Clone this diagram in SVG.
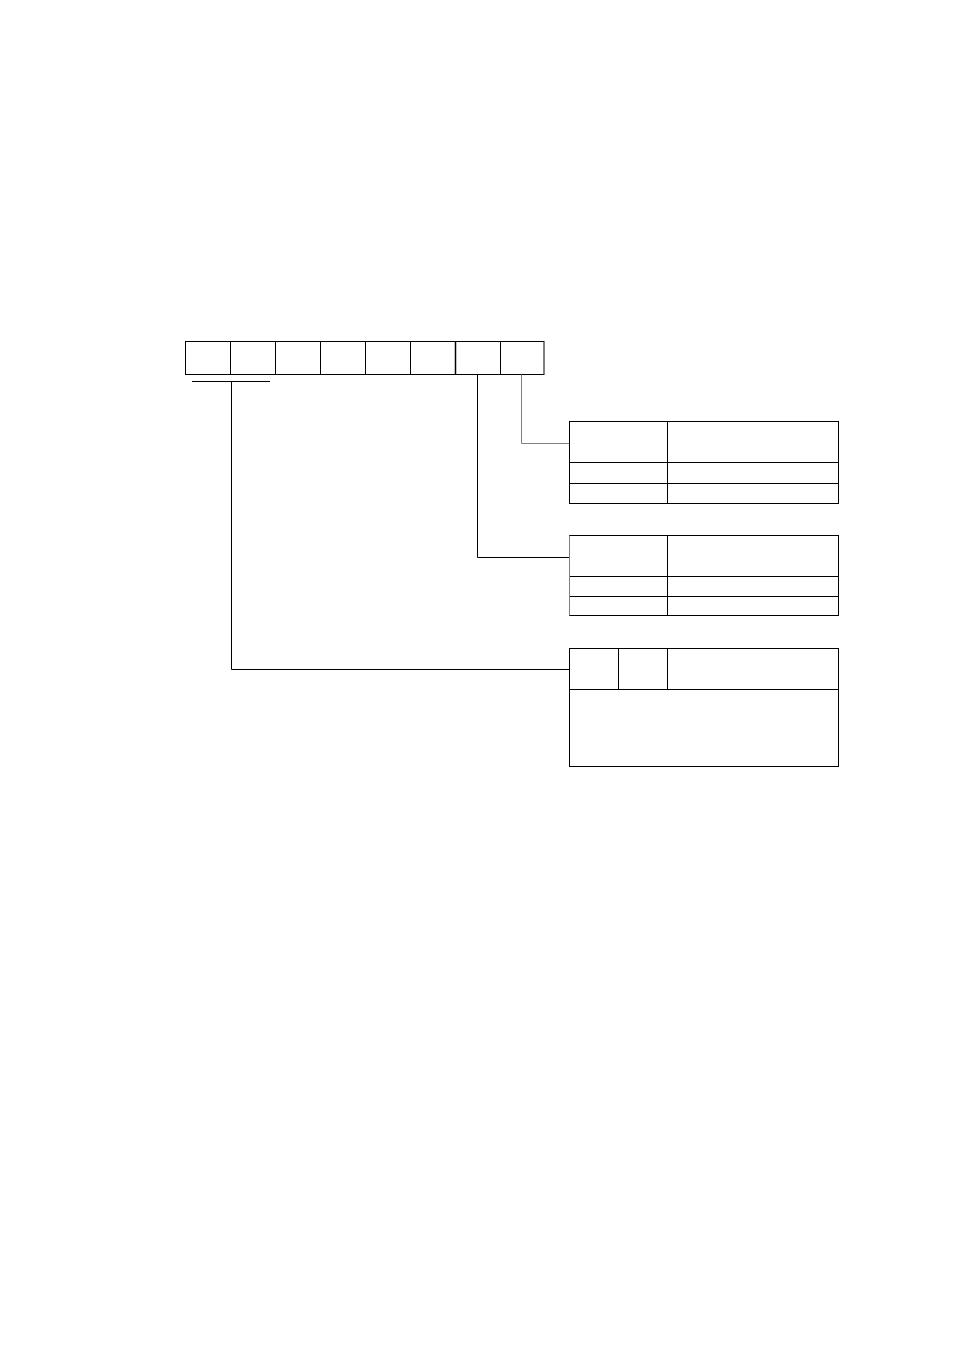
<svg xmlns="http://www.w3.org/2000/svg" width="954" height="1351" viewBox="0 0 954 1351">
<style>
.b{fill:none;stroke:#000;stroke-width:1}
.g{fill:none;stroke:#808080;stroke-width:1}
</style>
<rect width="954" height="1351" fill="#fff"/>
<g id="register">
<rect class="b" x="185.5" y="341.5" width="358.5" height="33"/>
<path class="b" d="M230.5 341.5V374.5M275.5 341.5V374.5M320.5 341.5V374.5M365.5 341.5V374.5M410.5 341.5V374.5M500.5 341.5V374.5"/>
<path d="M455.5 341.5V374.5" stroke="#000" stroke-width="1.5"/>
</g>
<g id="connectors">
<path class="b" d="M192 381.5H270"/>
<path class="b" d="M231.5 381.5V669.5H569.5"/>
<path class="b" d="M477.5 374.5V557.5H569.5"/>
<path class="g" d="M521.5 374.5V443.5H569.5"/>
</g>
<g id="table1">
<rect class="b" x="569.5" y="421.5" width="269" height="82"/>
<path class="b" d="M667.5 421.5V503.5M569.5 462.5H838.5M569.5 483.5H838.5"/>
</g>
<g id="table2">
<rect class="b" x="569.5" y="535.5" width="269" height="80"/>
<path class="b" d="M667.5 535.5V615.5M569.5 576.5H838.5M569.5 596.5H838.5"/>
<path class="g" d="M569.5 535.5V615.5"/>
</g>
<g id="table3">
<rect class="b" x="569.5" y="648.5" width="269" height="118"/>
<path class="b" d="M618.5 648.5V689.5M667.5 648.5V689.5M569.5 689.5H838.5"/>
</g>
</svg>
